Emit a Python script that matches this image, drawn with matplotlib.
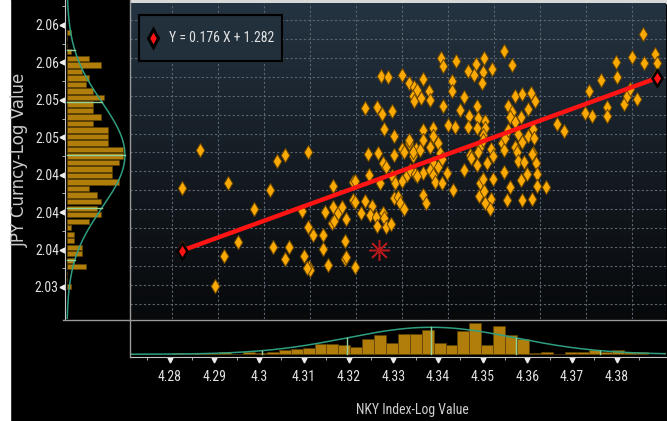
import numpy as np
import matplotlib
matplotlib.use('Agg')
import matplotlib.pyplot as plt
from matplotlib import font_manager
from matplotlib.colors import LinearSegmentedColormap
from matplotlib.lines import Line2D
from matplotlib.patches import Rectangle
from matplotlib.ticker import FormatStrFormatter
import matplotlib.transforms as mtransforms

# narrowest sans family on the machine for the terminal-style labels
fonts = font_manager.fontManager.ttflist
names = {f.name for f in fonts}
if 'Liberation Sans Narrow' in names:
    narrow = dict(family='Liberation Sans Narrow')
elif 'Roboto Condensed' in names:
    narrow = dict(family='Roboto Condensed')
elif any(f.name == 'DejaVu Sans' and 'condensed' in str(f.stretch) for f in fonts):
    narrow = dict(family='DejaVu Sans', stretch='condensed')
else:
    narrow = dict(family='Liberation Sans')
plt.rcParams['font.family'] = [narrow['family'], 'DejaVu Sans']
if 'stretch' in narrow:
    plt.rcParams['font.stretch'] = narrow['stretch']

# NKY Index log value (x) vs JPY Curncy log value (y)
nky = [4.2822, 4.2822, 4.2861, 4.2893, 4.2914, 4.2923, 4.2943, 4.2979, 4.3014, 4.3019,
       4.3029, 4.3047, 4.3046, 4.3054, 4.3083, 4.3088, 4.3096, 4.3097, 4.3098, 4.3101,
       4.3093, 4.3106, 4.3129, 4.3129, 4.3133, 4.3140, 4.3151, 4.3151, 4.3148, 4.3153,
       4.3162, 4.3171, 4.3179, 4.3176, 4.3177, 4.3179, 4.3193, 4.3199, 4.3193, 4.3198,
       4.3199, 4.3254, 4.3269, 4.3300, 4.3316, 4.3327, 4.3325, 4.3327, 4.3221, 4.3247,
       4.3256, 4.3278, 4.3261, 4.3283, 4.3227, 4.3249, 4.3283, 4.3301, 4.3316, 4.3316,
       4.3330, 4.3258, 4.3266, 4.3305, 4.3325, 4.3325, 4.3229, 4.3253, 4.3278, 4.3285,
       4.3301, 4.3311, 4.3318, 4.3329, 4.3282, 4.3292, 4.3296, 4.3305, 4.3219, 4.3236,
       4.3211, 4.3231, 4.3243, 4.3260, 4.3262, 4.3247, 4.3265, 4.3277, 4.3332, 4.3342,
       4.3347, 4.3359, 4.3361, 4.3386, 4.3390, 4.3417, 4.3408, 4.3408, 4.3434, 4.3443,
       4.3461, 4.3479, 4.3477, 4.3495, 4.3456, 4.3474, 4.3521, 4.3539, 4.3390, 4.3427,
       4.3463, 4.3446, 4.3465, 4.3481, 4.3401, 4.3416, 4.3443, 4.3463, 4.3481, 4.3477,
       4.3347, 4.3368, 4.3368, 4.3345, 4.3379, 4.3361, 4.3340, 4.3383, 4.3470, 4.3465,
       4.3477, 4.3494, 4.3448, 4.3387, 4.3368, 4.3379, 4.3361, 4.3347, 4.3332, 4.3368,
       4.3372, 4.3387, 4.3398, 4.3347, 4.3353, 4.3411, 4.3436, 4.3450, 4.3463, 4.3470,
       4.3477, 4.3485, 4.3499, 4.3497, 4.3467, 4.3478, 4.3493, 4.3481, 4.3492, 4.3517,
       4.3523, 4.3524, 4.3545, 4.3561, 4.3550, 4.3545, 4.3562, 4.3581, 4.3589, 4.3575,
       4.3531, 4.3539, 4.3535, 4.3559, 4.3546, 4.3586, 4.3573, 4.3588, 4.3531, 4.3553,
       4.3586, 4.3522, 4.3534, 4.3528, 4.3553, 4.3566, 4.3583, 4.3591, 4.3559, 4.3571,
       4.3594, 4.3593, 4.3613, 4.3562, 4.3582, 4.3637, 4.3653, 4.3698, 4.3707, 4.3714,
       4.3732, 4.3745, 4.3745, 4.3766, 4.3768, 4.3783, 4.3789, 4.3796, 4.3811, 4.3800,
       4.3827, 4.3825, 4.3850, 4.3854, 4.3852]
jpy = [2.0359, 2.0423, 2.0463, 2.0319, 2.0351, 2.0428, 2.0366, 2.0400, 2.0421, 2.0360,
       2.0451, 2.0457, 2.0348, 2.0361, 2.0398, 2.0351, 2.0460, 2.0382, 2.0339, 2.0336,
       2.0338, 2.0373, 2.0373, 2.0358, 2.0397, 2.0342, 2.0425, 2.0403, 2.0386, 2.0388,
       2.0396, 2.0403, 2.0390, 2.0367, 2.0348, 2.0350, 2.0429, 2.0430, 2.0410, 2.0408,
       2.0339, 2.0541, 2.0539, 2.0542, 2.0533, 2.0529, 2.0519, 2.0514, 2.0507, 2.0508,
       2.0501, 2.0504, 2.0485, 2.0477, 2.0458, 2.0459, 2.0457, 2.0464, 2.0470, 2.0473,
       2.0464, 2.0449, 2.0445, 2.0461, 2.0456, 2.0461, 2.0436, 2.0428, 2.0435, 2.0428,
       2.0430, 2.0436, 2.0442, 2.0437, 2.0412, 2.0413, 2.0407, 2.0400, 2.0409, 2.0404,
       2.0396, 2.0394, 2.0392, 2.0396, 2.0391, 2.0383, 2.0382, 2.0385, 2.0526, 2.0517,
       2.0537, 2.0525, 2.0515, 2.0560, 2.0551, 2.0556, 2.0535, 2.0525, 2.0518, 2.0546,
       2.0553, 2.0559, 2.0545, 2.0548, 2.0542, 2.0533, 2.0567, 2.0552, 2.0509, 2.0505,
       2.0509, 2.0498, 2.0496, 2.0493, 2.0489, 2.0487, 2.0487, 2.0486, 2.0486, 2.0478,
       2.0484, 2.0486, 2.0477, 2.0473, 2.0470, 2.0466, 2.0463, 2.0459, 2.0466, 2.0461,
       2.0473, 2.0464, 2.0457, 2.0453, 2.0449, 2.0445, 2.0442, 2.0438, 2.0435, 2.0436,
       2.0429, 2.0428, 2.0438, 2.0415, 2.0407, 2.0421, 2.0442, 2.0454, 2.0447, 2.0428,
       2.0432, 2.0449, 2.0456, 2.0432, 2.0414, 2.0419, 2.0411, 2.0407, 2.0401, 2.0470,
       2.0463, 2.0475, 2.0466, 2.0471, 2.0461, 2.0520, 2.0522, 2.0523, 2.0514, 2.0506,
       2.0509, 2.0503, 2.0497, 2.0497, 2.0492, 2.0485, 2.0477, 2.0475, 2.0484, 2.0480,
       2.0459, 2.0439, 2.0424, 2.0410, 2.0451, 2.0450, 2.0458, 2.0449, 2.0431, 2.0437,
       2.0437, 2.0425, 2.0424, 2.0410, 2.0411, 2.0490, 2.0483, 2.0502, 2.0525, 2.0498,
       2.0536, 2.0508, 2.0498, 2.0555, 2.0540, 2.0511, 2.0519, 2.0527, 2.0516, 2.0561,
       2.0554, 2.0585, 2.0564, 2.0554, 2.0541]

# regression line and latest observation
slope, intercept = 0.176, 1.282
last_nky, last_jpy = 4.3251, 2.0357

# marginal histograms, 40 bins each
nky_bin_start, nky_bin_width = 4.2804, 0.002666
nky_counts = [1, 0, 1, 1, 2, 0, 2, 1, 2, 3, 4, 5, 8, 8, 7, 6, 12, 15, 9, 16,
              16, 19, 9, 7, 18, 24, 7, 22, 15, 12, 1, 2, 0, 2, 2, 3, 2, 3, 2, 2]
jpy_bin_start, jpy_bin_width = 2.03175, 0.000695
jpy_counts = [1, 0, 0, 5, 2, 4, 4, 2, 2, 1, 6, 9, 8, 9, 8, 6, 14, 12, 12, 14,
              15, 15, 11, 11, 11, 7, 9, 7, 7, 10, 7, 5, 6, 4, 9, 6, 1, 0, 0, 1]

# normal fits over the marginals
nky_mean, nky_std, nky_peak = 4.3385, 0.0189, 20.8
jpy_mean, jpy_std, jpy_peak = 2.0461, 0.00563, 15.5

equation = 'Y = 0.176 X + 1.282'
x_ticks = np.arange(4.28, 4.3851, 0.01)
y_ticks = np.arange(2.032, 2.0601, 0.004)

W, H = 667, 421
fig = plt.figure(figsize=(W / 100, H / 100), dpi=100, facecolor='black')

# size the narrow labels so the equation spans ~104 px
probe = fig.text(0, 0, equation, fontsize=10)
pw = probe.get_window_extent(fig.canvas.get_renderer()).width
probe.remove()
fs = 10 * 104 / pw


def px_box(x0, y0, x1, y1):
    return [x0 / W, 1 - y1 / H, (x1 - x0) / W, (y1 - y0) / H]


def fig_line(xs, ys, **kw):
    fig.add_artist(Line2D([x / W for x in xs], [1 - y / H for y in ys],
                          transform=fig.transFigure, **kw))


fig.add_artist(Rectangle((0, 0), 10 / W, 1, transform=fig.transFigure,
                         color='white', zorder=0))
fig.add_artist(Rectangle((130 / W, 1 - 3 / H), 1, 3 / H, transform=fig.transFigure,
                         color='#d9d9d9', zorder=0))

ax = fig.add_axes(px_box(130, 3, 666, 319))
axl = fig.add_axes(px_box(65, 0, 130, 319))
axb = fig.add_axes(px_box(130, 320, 666, 356.7))

gold = '#fba905'
bar_col = '#b27e0b'
fit_col = '#2f9e80'
sig_col = '#93d39a'
txt_col = '#e2e2e2'

# ---- main scatter panel ----
xlim = (4.27094, 4.38739)
ylim = (2.02847, 2.06174)
bg = LinearSegmentedColormap.from_list('bg', ['#07090b', '#151c23', '#253442'])
ax.imshow(np.linspace(0, 1, 256).reshape(-1, 1), cmap=bg, origin='lower',
          extent=[*xlim, *ylim], aspect='auto', zorder=0)
ax.set_xlim(xlim)
ax.set_ylim(ylim)
ax.set_xticks(np.arange(4.28, 4.3851, 0.01))
ax.set_yticks(np.arange(2.030, 2.0615, 0.002))
ax.tick_params(length=0, labelbottom=False, labelleft=False)
ax.grid(True, color='#5a656f', ls=(0, (2, 2)), lw=0.8)
ax.set_axisbelow(True)
for s in ax.spines.values():
    s.set_visible(False)

ax.scatter(nky, jpy, marker='d', s=52, c=gold, edgecolors='#6a4600',
           linewidths=0.7, zorder=3)

xs = np.array([min(nky), max(nky)])
ys = slope * xs + intercept
ax.plot(xs, ys, color='#ff1414', lw=3.2, zorder=4, solid_capstyle='butt')
ax.plot(xs, ys, ls='none', marker='d', ms=8, mfc='#ff1414', mec='black',
        mew=1.8, zorder=5)
ax.plot(last_nky, last_jpy, marker=(8, 2, 0), ms=15, color='#c41a1a',
        mew=1.1, alpha=0.9, zorder=5)

# equation box
fig.add_artist(Rectangle((139.3 / W, 1 - 60.7 / H), 142.4 / W, 45.7 / H,
                         transform=fig.transFigure, facecolor='#22303b',
                         edgecolor='black', lw=1.5, zorder=6))
fig.add_artist(Line2D([152.7 / W], [1 - 37.7 / H], transform=fig.transFigure,
                      ls='none', marker='d', ms=9, mfc='#ff1414', mec='black',
                      mew=2.2, zorder=7))
fig.text(169 / W, 1 - 38 / H, equation, color=txt_col, fontsize=fs,
         ha='left', va='center', zorder=7)

# ---- left marginal (JPY) ----
axl.set_facecolor('black')
jpy_edges = jpy_bin_start + jpy_bin_width * np.arange(len(jpy_counts))
axl.barh(jpy_edges + 0.11 * jpy_bin_width, jpy_counts, height=0.78 * jpy_bin_width,
         align='edge', color=bar_col, edgecolor='#5e4206', lw=0.5, zorder=2)
yy = np.linspace(2.0286, 2.0627, 300)
axl.plot(jpy_peak * np.exp(-0.5 * ((yy - jpy_mean) / jpy_std) ** 2), yy,
         color=fit_col, lw=1.1, zorder=3)
for k in (-2, -1, 0, 1, 2):
    yk = jpy_mean + k * jpy_std
    axl.plot([0, jpy_peak * np.exp(-0.5 * k * k)], [yk, yk], color=sig_col,
             lw=1, zorder=3)
axl.set_xlim(-0.48, 16.85)
axl.set_ylim(2.02858, 2.06267)
for side in ('top', 'right', 'bottom'):
    axl.spines[side].set_visible(False)
axl.spines['left'].set_color('#c8c8c8')
axl.set_xticks([])
axl.set_yticks(y_ticks)
axl.set_yticks(y_ticks + 0.002, minor=True)
axl.yaxis.set_major_formatter(FormatStrFormatter('%.2f'))
axl.tick_params(axis='y', which='major', length=0, pad=4.5, labelsize=fs,
                labelcolor=txt_col)
axl.tick_params(axis='y', which='minor', length=2, color='#c8c8c8')
tl = mtransforms.blended_transform_factory(axl.transAxes, axl.transData)
axl.plot([-0.045] * len(y_ticks), y_ticks, ls='none', marker='<', ms=3.5,
         color='#eeeeee', transform=tl, clip_on=False)

# ---- bottom marginal (NKY) ----
axb.set_facecolor('black')
nky_edges = nky_bin_start + nky_bin_width * np.arange(len(nky_counts))
axb.bar(nky_edges, nky_counts, width=nky_bin_width, align='edge',
        color=bar_col, edgecolor='#5e4206', lw=0.5, zorder=2)
xx = np.linspace(4.2711, 4.3910, 400)
axb.plot(xx, nky_peak * np.exp(-0.5 * ((xx - nky_mean) / nky_std) ** 2),
         color=fit_col, lw=1.1, zorder=3)
for k in (-2, -1, 0, 1, 2):
    xk = nky_mean + k * nky_std
    axb.plot([xk, xk], [0, nky_peak * np.exp(-0.5 * k * k)], color=sig_col,
             lw=1, zorder=3)
axb.set_xlim(4.27110, 4.39104)
axb.set_ylim(-1.85, 26.4)
for side in ('top', 'right', 'left'):
    axb.spines[side].set_visible(False)
axb.spines['bottom'].set_color('#c8c8c8')
axb.set_yticks([])
axb.set_xticks(x_ticks)
axb.set_xticklabels(['%g' % round(t, 2) for t in x_ticks])
axb.set_xticks(np.arange(4.275, 4.391, 0.01), minor=True)
axb.tick_params(axis='x', which='major', length=0, pad=9.3, labelsize=fs,
                labelcolor=txt_col)
axb.tick_params(axis='x', which='minor', length=2.5, color='#c8c8c8')
tb = mtransforms.blended_transform_factory(axb.transData, axb.transAxes)
axb.plot(x_ticks, [-0.08] * len(x_ticks), ls='none', marker='v', ms=3.5,
         color='#eeeeee', transform=tb, clip_on=False)

# panel separators
fig_line([63, 667], [319.5, 319.5], color='#9a9a9a', lw=1)
fig_line([130, 130], [0, 357], color='#9a9a9a', lw=1)

fig.text(20 / W, 1 - 160 / H, 'JPY Curncy-Log Value', rotation=90, ha='center',
         va='center', color='#c9c9c9', fontsize=12, family=['DejaVu Sans'],
         fontstretch='normal')
fig.text(412 / W, 1 - 410 / H, 'NKY Index-Log Value', ha='center', va='center',
         color='#d0d0d0', fontsize=fs)

fig.savefig('out.png', dpi=100, facecolor='black')
